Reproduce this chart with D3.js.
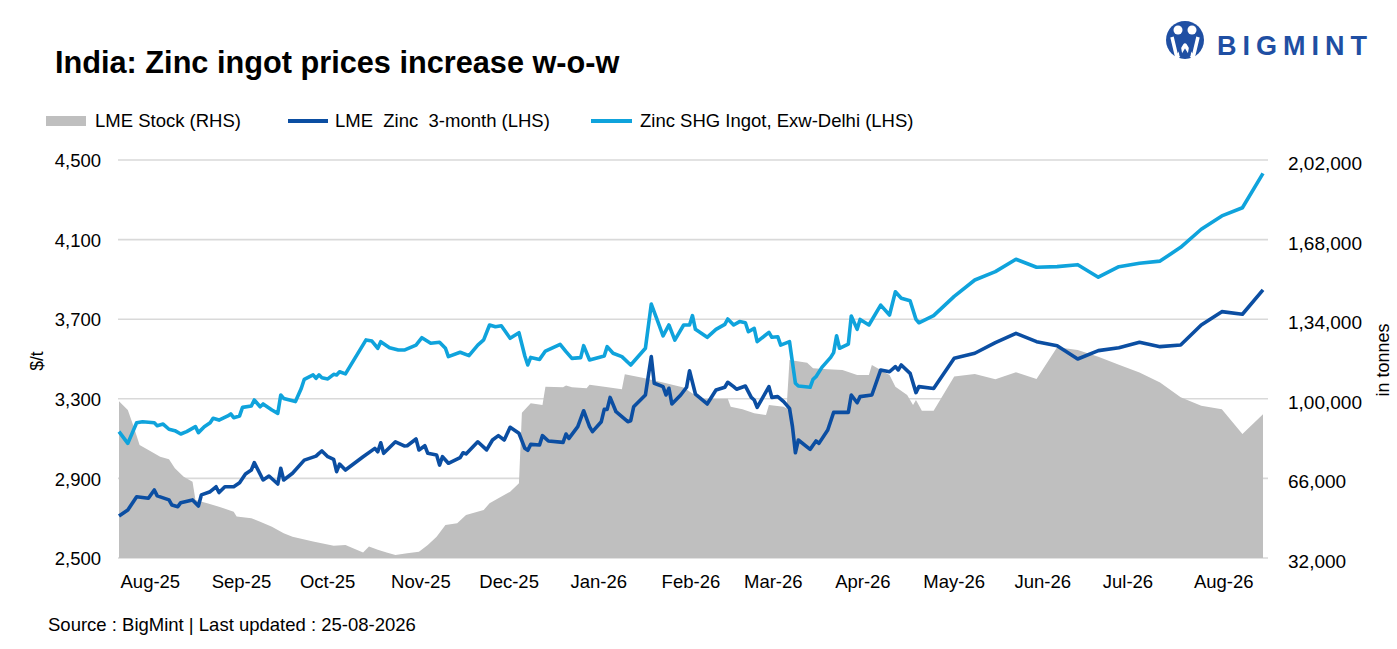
<!DOCTYPE html>
<html>
<head>
<meta charset="utf-8">
<script src="https://cdn.jsdelivr.net/npm/d3@7"></script>
<style>
  body { margin: 0; background: #fff; }
  text { font-family: "Liberation Sans", Arial, sans-serif; fill: #000; }
</style>
</head>
<body>
<script>
// LME Stock (RHS), tonnes
var lmeStock = [
  ["2025-08-01",99000],["2025-08-04",95200],["2025-08-06",88100],["2025-08-08",80300],
  ["2025-08-11",78100],["2025-08-15",75300],["2025-08-18",74200],["2025-08-20",70300],
  ["2025-08-23",66700],["2025-08-26",64600],["2025-08-27",56800],["2025-08-31",55400],
  ["2025-09-04",53900],["2025-09-09",51800],["2025-09-10",49700],["2025-09-15",49000],
  ["2025-09-18",47500],["2025-09-22",45400],["2025-09-26",42600],["2025-09-29",41100],
  ["2025-10-06",39000],["2025-10-13",37200],["2025-10-17",37500],["2025-10-23",34300],
  ["2025-10-25",36900],["2025-10-28",35500],["2025-10-31",34300],["2025-11-03",33300],
  ["2025-11-07",34000],["2025-11-11",34700],["2025-11-14",37500],["2025-11-17",41100],
  ["2025-11-20",46100],["2025-11-24",46800],["2025-11-27",50400],["2025-12-03",52500],
  ["2025-12-05",55400],["2025-12-08",57500],["2025-12-12",60300],["2025-12-15",63900],
  ["2025-12-16",94000],["2025-12-19",98100],["2025-12-23",97400],["2025-12-24",105200],
  ["2025-12-30",104900],["2025-12-31",105700],["2026-01-02",104900],["2026-01-07",104500],
  ["2026-01-08",106000],["2026-01-13",105100],["2026-01-19",104100],["2026-01-20",110500],
  ["2026-01-26",109000],["2026-02-02",107000],["2026-02-09",104800],["2026-02-12",102300],
  ["2026-02-16",99900],["2026-02-24",100000],["2026-02-25",96600],["2026-03-01",95500],
  ["2026-03-05",93800],["2026-03-09",93100],["2026-03-10",97400],["2026-03-15",96600],
  ["2026-03-16",95900],["2026-03-17",116600],["2026-03-23",115400],["2026-03-25",113000],
  ["2026-03-30",112600],["2026-04-04",112300],["2026-04-09",110200],["2026-04-13",110200],
  ["2026-04-14",114400],["2026-04-17",112300],["2026-04-20",110200],["2026-04-22",105200],
  ["2026-04-26",101600],["2026-04-28",97400],["2026-04-29",99500],["2026-05-01",94900],
  ["2026-05-05",94900],["2026-05-12",109500],["2026-05-19",110600],["2026-05-26",108300],
  ["2026-06-02",111300],["2026-06-09",108500],["2026-06-16",122000],["2026-06-23",120800],
  ["2026-06-30",118000],["2026-07-07",114500],["2026-07-14",111200],["2026-07-21",107000],
  ["2026-07-28",100700],["2026-08-04",97000],["2026-08-11",95500],["2026-08-18",85000],
  ["2026-08-25",93400]
];

// LME Zinc 3-month (LHS), $/t
var lmeZinc = [
  ["2025-08-01",2711],["2025-08-04",2741],["2025-08-07",2808],["2025-08-11",2800],
  ["2025-08-13",2842],["2025-08-14",2812],["2025-08-18",2792],["2025-08-19",2766],
  ["2025-08-21",2758],["2025-08-22",2778],["2025-08-26",2792],["2025-08-28",2761],
  ["2025-08-29",2817],["2025-09-01",2833],["2025-09-03",2858],["2025-09-04",2829],
  ["2025-09-06",2858],["2025-09-09",2858],["2025-09-11",2878],["2025-09-13",2922],
  ["2025-09-15",2942],["2025-09-16",2979],["2025-09-19",2892],["2025-09-21",2912],
  ["2025-09-24",2872],["2025-09-25",2951],["2025-09-26",2892],["2025-09-29",2926],
  ["2025-10-03",2992],["2025-10-07",3012],["2025-10-08",3026],["2025-10-09",3038],
  ["2025-10-11",3009],["2025-10-13",2996],["2025-10-14",2934],["2025-10-15",2972],
  ["2025-10-17",2942],["2025-10-23",3009],["2025-10-27",3051],["2025-10-28",3034],
  ["2025-10-29",3079],["2025-10-30",3026],["2025-11-03",3084],["2025-11-06",3063],
  ["2025-11-07",3064],["2025-11-10",3098],["2025-11-11",3043],["2025-11-13",3064],
  ["2025-11-14",3026],["2025-11-17",3018],["2025-11-18",2967],["2025-11-19",3009],
  ["2025-11-21",2976],["2025-11-25",3004],["2025-11-26",3029],["2025-11-27",3023],
  ["2025-12-01",3084],["2025-12-04",3043],["2025-12-06",3093],["2025-12-08",3115],
  ["2025-12-10",3093],["2025-12-12",3157],["2025-12-15",3127],["2025-12-17",3051],
  ["2025-12-18",3041],["2025-12-19",3071],["2025-12-22",3068],["2025-12-23",3115],
  ["2025-12-25",3088],["2025-12-30",3081],["2025-12-31",3123],["2026-01-01",3101],
  ["2026-01-04",3160],["2026-01-06",3240],["2026-01-08",3160],["2026-01-09",3135],
  ["2026-01-12",3185],["2026-01-13",3247],["2026-01-14",3247],["2026-01-15",3307],
  ["2026-01-17",3235],["2026-01-19",3210],["2026-01-21",3185],["2026-01-22",3190],
  ["2026-01-23",3260],["2026-01-27",3319],["2026-01-29",3512],["2026-01-30",3378],
  ["2026-02-02",3361],["2026-02-03",3319],["2026-02-04",3353],["2026-02-05",3274],
  ["2026-02-08",3319],["2026-02-10",3358],["2026-02-11",3441],["2026-02-13",3324],
  ["2026-02-17",3274],["2026-02-20",3344],["2026-02-23",3358],["2026-02-24",3383],
  ["2026-02-26",3361],["2026-02-27",3348],["2026-03-02",3364],["2026-03-04",3307],
  ["2026-03-05",3294],["2026-03-06",3257],["2026-03-10",3361],["2026-03-11",3307],
  ["2026-03-13",3311],["2026-03-15",3286],["2026-03-17",3252],["2026-03-18",3160],
  ["2026-03-19",3029],["2026-03-20",3093],["2026-03-24",3046],["2026-03-26",3088],
  ["2026-03-27",3076],["2026-03-30",3143],["2026-04-01",3232],["2026-04-06",3232],
  ["2026-04-07",3319],["2026-04-09",3280],["2026-04-10",3311],["2026-04-14",3319],
  ["2026-04-17",3445],["2026-04-20",3436],["2026-04-22",3462],["2026-04-23",3445],
  ["2026-04-24",3470],["2026-04-27",3428],["2026-04-29",3331],["2026-04-30",3361],
  ["2026-05-05",3352],["2026-05-12",3504],["2026-05-19",3529],["2026-05-26",3582],
  ["2026-06-02",3629],["2026-06-09",3587],["2026-06-16",3567],["2026-06-23",3500],
  ["2026-06-30",3542],["2026-07-07",3557],["2026-07-14",3584],["2026-07-21",3562],
  ["2026-07-28",3570],["2026-08-04",3671],["2026-08-11",3738],["2026-08-18",3725],
  ["2026-08-25",3847]
];

// Zinc SHG Ingot, Exw-Delhi (LHS), $/t
var shgDelhi = [
  ["2025-08-01",3135],["2025-08-04",3076],["2025-08-07",3180],["2025-08-09",3185],
  ["2025-08-13",3180],["2025-08-14",3165],["2025-08-16",3173],["2025-08-18",3147],
  ["2025-08-20",3140],["2025-08-22",3123],["2025-08-24",3135],["2025-08-27",3160],
  ["2025-08-28",3130],["2025-08-30",3160],["2025-09-01",3180],["2025-09-02",3202],
  ["2025-09-04",3193],["2025-09-07",3214],["2025-09-08",3224],["2025-09-09",3205],
  ["2025-09-11",3214],["2025-09-12",3257],["2025-09-15",3264],["2025-09-16",3294],
  ["2025-09-18",3260],["2025-09-19",3274],["2025-09-22",3244],["2025-09-24",3227],
  ["2025-09-25",3319],["2025-09-26",3302],["2025-09-30",3286],["2025-10-02",3353],
  ["2025-10-03",3398],["2025-10-06",3420],["2025-10-07",3403],["2025-10-08",3420],
  ["2025-10-09",3406],["2025-10-11",3400],["2025-10-13",3423],["2025-10-14",3420],
  ["2025-10-15",3436],["2025-10-17",3425],["2025-10-24",3596],["2025-10-26",3590],
  ["2025-10-28",3554],["2025-10-29",3587],["2025-11-01",3557],["2025-11-04",3545],
  ["2025-11-06",3545],["2025-11-10",3570],["2025-11-12",3607],["2025-11-15",3579],
  ["2025-11-18",3584],["2025-11-20",3554],["2025-11-21",3512],["2025-11-25",3534],
  ["2025-11-28",3517],["2025-12-01",3570],["2025-12-03",3596],["2025-12-05",3671],
  ["2025-12-07",3662],["2025-12-09",3667],["2025-12-12",3604],["2025-12-15",3632],
  ["2025-12-17",3515],["2025-12-18",3470],["2025-12-19",3508],["2025-12-22",3498],
  ["2025-12-24",3540],["2025-12-29",3574],["2025-12-31",3537],["2026-01-02",3503],
  ["2026-01-05",3507],["2026-01-06",3567],["2026-01-08",3495],["2026-01-13",3515],
  ["2026-01-14",3562],["2026-01-16",3529],["2026-01-19",3512],["2026-01-22",3470],
  ["2026-01-27",3554],["2026-01-29",3776],["2026-01-31",3696],["2026-02-02",3616],
  ["2026-02-04",3671],["2026-02-06",3595],["2026-02-09",3671],["2026-02-11",3671],
  ["2026-02-12",3718],["2026-02-13",3649],["2026-02-17",3609],["2026-02-20",3649],
  ["2026-02-23",3674],["2026-02-24",3701],["2026-02-26",3671],["2026-02-28",3688],
  ["2026-03-02",3682],["2026-03-03",3637],["2026-03-05",3654],["2026-03-06",3587],
  ["2026-03-10",3634],["2026-03-11",3609],["2026-03-13",3612],["2026-03-14",3570],
  ["2026-03-17",3587],["2026-03-19",3378],["2026-03-20",3364],["2026-03-24",3358],
  ["2026-03-25",3398],["2026-03-26",3411],["2026-03-28",3458],["2026-03-31",3508],
  ["2026-04-01",3532],["2026-04-02",3617],["2026-04-03",3554],["2026-04-06",3575],
  ["2026-04-07",3716],["2026-04-09",3649],["2026-04-10",3699],["2026-04-13",3671],
  ["2026-04-17",3771],["2026-04-20",3721],["2026-04-22",3838],["2026-04-24",3805],
  ["2026-04-27",3793],["2026-04-29",3699],["2026-04-30",3682],["2026-05-05",3718],
  ["2026-05-12",3815],["2026-05-19",3897],["2026-05-26",3939],["2026-06-02",4001],
  ["2026-06-09",3961],["2026-06-16",3964],["2026-06-23",3974],["2026-06-30",3911],
  ["2026-07-07",3964],["2026-07-14",3981],["2026-07-21",3992],["2026-07-28",4061],
  ["2026-08-04",4152],["2026-08-11",4219],["2026-08-18",4260],["2026-08-25",4433]
];

var leftTicks = [2500, 2900, 3300, 3700, 4100, 4500];
var rightTicks = [32000, 66000, 100000, 134000, 168000, 202000];
var legendLabels = ["LME Stock (RHS)", "LME  Zinc  3-month (LHS)", "Zinc SHG Ingot, Exw-Delhi (LHS)"];

var title = "India: Zinc ingot prices increase w-o-w";
var source = "Source : BigMint | Last updated : 25-08-2026";

var colStock = "#bfbfbf", colLme = "#0b4ea2", colShg = "#0fa3dc";

var W = 1397, H = 649;
var plot = {left: 119, right: 1263, top: 160, bottom: 558};

var parse = d3.timeParse("%Y-%m-%d");
function toRows(arr) { return arr.map(function(d) { return {date: parse(d[0]), value: d[1]}; }); }
var stockRows = toRows(lmeStock), lmeRows = toRows(lmeZinc), shgRows = toRows(shgDelhi);

// indian digit grouping: 2,02,000
function indian(n) {
  var s = String(Math.round(n));
  if (s.length <= 3) return s;
  var last3 = s.slice(-3), rest = s.slice(0, -3);
  return rest.replace(/\B(?=(\d{2})+(?!\d))/g, ",") + "," + last3;
}

var svg = d3.select("body").append("svg")
  .attr("width", W)
  .attr("height", H);

var x = d3.scaleTime()
  .domain([parse("2025-08-01"), parse("2026-08-25")])
  .range([plot.left, plot.right]);
var yL = d3.scaleLinear().domain([2500, 4500]).range([plot.bottom, plot.top]);
var yR = d3.scaleLinear().domain([32000, 202000]).range([plot.bottom, plot.top]);

//gridlines
svg.append("g").selectAll("line")
  .data(leftTicks).enter()
  .append("line")
  .attr("x1", plot.left - 1).attr("x2", plot.right + 5)
  .attr("y1", function(d) { return yL(d); })
  .attr("y2", function(d) { return yL(d); })
  .attr("stroke", "#d9d9d9")
  .attr("stroke-width", 1.6);

//stock area
var area = d3.area()
  .x(function(d) { return x(d.date); })
  .y0(yR(32000))
  .y1(function(d) { return yR(d.value); });

svg.append("path").datum(stockRows)
  .attr("d", area)
  .attr("fill", colStock);

var lineL = d3.line()
  .x(function(d) { return x(d.date); })
  .y(function(d) { return yL(d.value); });

svg.append("path").datum(lmeRows)
  .attr("d", lineL)
  .attr("fill", "none")
  .attr("stroke", colLme)
  .attr("stroke-width", 3.6)
  .attr("stroke-linejoin", "round");

svg.append("path").datum(shgRows)
  .attr("d", lineL)
  .attr("fill", "none")
  .attr("stroke", colShg)
  .attr("stroke-width", 3.6)
  .attr("stroke-linejoin", "round");

//axes
var axL = svg.append("g")
  .attr("transform", "translate(" + (plot.left - 18) + ",0)")
  .call(d3.axisLeft(yL).tickValues(leftTicks).tickSize(0).tickPadding(0).tickFormat(d3.format(",")));
var axR = svg.append("g")
  .attr("transform", "translate(" + (plot.right + 25) + ",0)")
  .call(d3.axisRight(yR).tickValues(rightTicks).tickSize(0).tickPadding(0).tickFormat(indian));
var axB = svg.append("g")
  .attr("transform", "translate(0," + (plot.bottom + 17) + ")")
  .call(d3.axisBottom(x).ticks(d3.timeMonth.every(1)).tickSize(0).tickPadding(0).tickFormat(d3.timeFormat("%b-%y")));
axB.selectAll("text").attr("text-anchor", "start").attr("dx", 1);

[axL, axR, axB].forEach(function(a) {
  a.select(".domain").remove();
  a.selectAll("text")
    .style("font-family", "'Liberation Sans', Arial, sans-serif")
    .style("font-size", "18.5px")
    .attr("fill", "#000");
});
axL.selectAll("text").attr("dy", "0.36em");
axR.selectAll("text").attr("dy", "0.5em").style("font-size", "19px");

//axis titles
svg.append("text")
  .attr("transform", "translate(43,361) rotate(-90)")
  .attr("text-anchor", "middle")
  .style("font-size", "17.5px")
  .text("$/t");
svg.append("text")
  .attr("transform", "translate(1389,360) rotate(-90)")
  .attr("text-anchor", "middle")
  .style("font-size", "18px")
  .text("in tonnes");

//title & source
svg.append("text")
  .attr("x", 55).attr("y", 73)
  .style("font-size", "30.7px")
  .style("font-weight", "bold")
  .text(title);
svg.append("text")
  .attr("x", 48).attr("y", 631)
  .style("font-size", "18.5px")
  .text(source);

//legend
var leg = svg.append("g");
leg.append("rect").attr("x", 46).attr("y", 116).attr("width", 40).attr("height", 10).attr("fill", colStock);
leg.append("line").attr("x1", 288).attr("x2", 328).attr("y1", 121).attr("y2", 121)
  .attr("stroke", colLme).attr("stroke-width", 4);
leg.append("line").attr("x1", 591).attr("x2", 632).attr("y1", 121).attr("y2", 121)
  .attr("stroke", colShg).attr("stroke-width", 4);
leg.selectAll("text.lg")
  .data(legendLabels).enter()
  .append("text")
  .attr("class", "lg")
  .attr("x", function(d, i) { return [95, 335, 640][i]; })
  .attr("y", 127)
  .style("font-size", "18.5px")
  .style("white-space", "pre")
  .text(function(d) { return d; });

//logo
var logo = svg.append("g");
logo.append("circle").attr("cx", 1185).attr("cy", 40).attr("r", 19).attr("fill", "#1f4fa3");
logo.append("circle").attr("cx", 1178).attr("cy", 30).attr("r", 4.5).attr("fill", "#fff");
logo.append("circle").attr("cx", 1192).attr("cy", 30).attr("r", 4.5).attr("fill", "#fff");
logo.append("path")
  .attr("d", "M1172,37 L1177,58 L1185,45 L1193,58 L1198,37")
  .attr("fill", "none").attr("stroke", "#fff").attr("stroke-width", 3.5)
  .attr("stroke-linejoin", "round");
logo.append("path")
  .attr("d", "M1178,38 L1181,56 M1192,38 L1189,56")
  .attr("fill", "none").attr("stroke", "#1f4fa3").attr("stroke-width", 3);
logo.append("text")
  .attr("x", 1217).attr("y", 55)
  .style("font-size", "27px")
  .style("font-weight", "bold")
  .style("letter-spacing", "6px")
  .style("fill", "#1f4fa3")
  .text("BIGMINT");
</script>
</body>
</html>
